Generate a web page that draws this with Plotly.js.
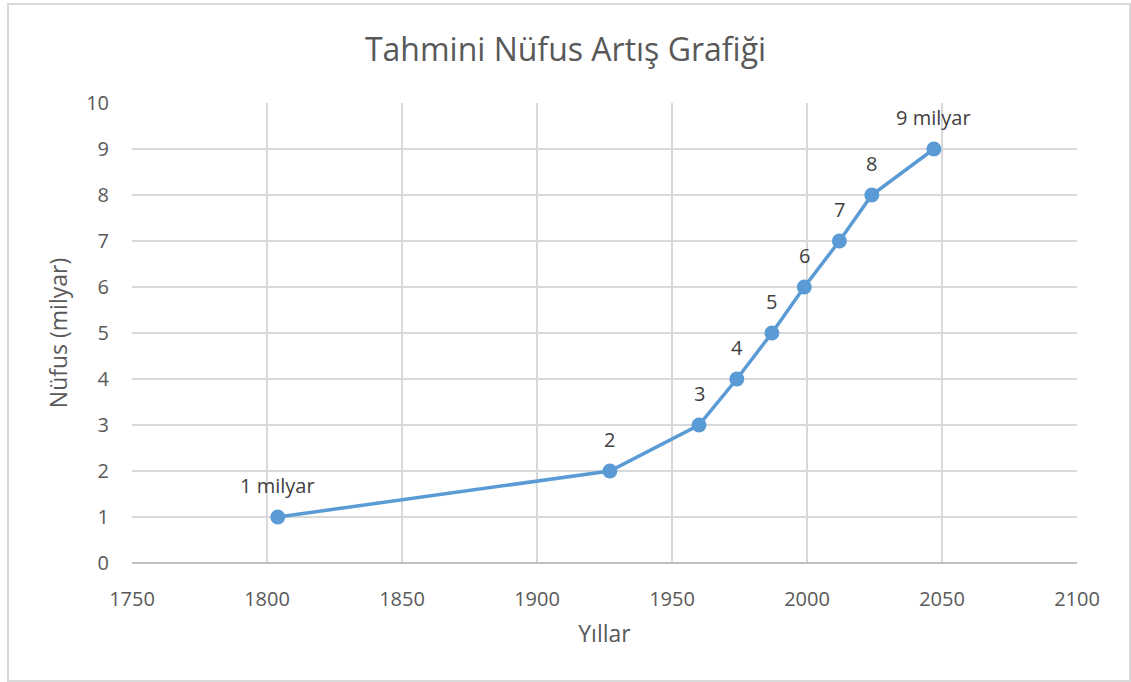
<!DOCTYPE html>
<html>
<head>
<meta charset="utf-8">
<script src="https://cdn.plot.ly/plotly-3.0.1.min.js"></script>
<style>
  html, body { margin: 0; padding: 0; background: #ffffff; }
  #frame { position: absolute; left: 7px; top: 3px; width: 1120px; height: 675px; border: 2px solid #d9d9d9; box-sizing: content-box; }
  #chart { position: absolute; left: 0; top: 0; width: 1131px; height: 682px; }
</style>
</head>
<body>
<div id="frame"></div>
<div id="chart"></div>
<script>
const years = [1804, 1927, 1960, 1974, 1987, 1999, 2012, 2024, 2047];
const population = [1, 2, 3, 4, 5, 6, 7, 8, 9];
const pointLabels = ["1 milyar", "2", "3", "4", "5", "6", "7", "8", "9 milyar"];
const xTicks = [1750, 1800, 1850, 1900, 1950, 2000, 2050, 2100];
const yTicks = [0, 1, 2, 3, 4, 5, 6, 7, 8, 9, 10];

const font = "'Open Sans', 'Noto Sans', sans-serif";
const textColor = "#595959";
const labelColor = "#404040";

const trace = {
  x: years,
  y: population,
  type: "scatter",
  mode: "lines+markers",
  line: { color: "#5b9bd5", width: 3.5 },
  marker: { color: "#5b9bd5", size: 15 },
  hoverinfo: "x+y",
  showlegend: false
};

const annotations = years.map((yr, i) => ({
  x: yr, y: population[i], xref: "x", yref: "y",
  text: pointLabels[i], showarrow: false, yshift: 32,
  font: { family: font, size: 20, color: labelColor }
}));

const layout = {
  width: 1131, height: 682,
  paper_bgcolor: "rgba(0,0,0,0)",
  plot_bgcolor: "#ffffff",
  margin: { l: 132, r: 54, t: 103, b: 119 },
  title: {
    text: "Tahmini Nüfus Artış Grafiği",
    font: { family: font, size: 32, color: textColor },
    x: 0.5, xanchor: "center", y: 0.927, yanchor: "middle"
  },
  xaxis: {
    range: [1750, 2100],
    tickvals: xTicks,
    ticktext: xTicks.map(String),
    showgrid: true, gridcolor: "#d9d9d9", gridwidth: 1.5,
    zeroline: false,
    showline: false,
    ticks: "outside", ticklen: 18, tickcolor: "rgba(0,0,0,0)",
    tickfont: { family: font, size: 20, color: textColor },
    title: { text: "Yıllar", font: { family: font, size: 23, color: textColor }, standoff: 14 },
    fixedrange: true
  },
  yaxis: {
    range: [0, 10],
    tickvals: yTicks,
    ticktext: yTicks.map(String),
    showgrid: true, gridcolor: "#d9d9d9", gridwidth: 1.5,
    zeroline: true, zerolinecolor: "#bfbfbf", zerolinewidth: 2,
    showline: false,
    ticks: "outside", ticklen: 18, tickcolor: "rgba(0,0,0,0)",
    tickfont: { family: font, size: 20, color: textColor },
    title: { text: "Nüfus (milyar)", font: { family: font, size: 23, color: textColor }, standoff: 12 },
    fixedrange: true
  },
  annotations: annotations
};

Plotly.newPlot("chart", [trace], layout, { displayModeBar: false });
</script>
</body>
</html>
